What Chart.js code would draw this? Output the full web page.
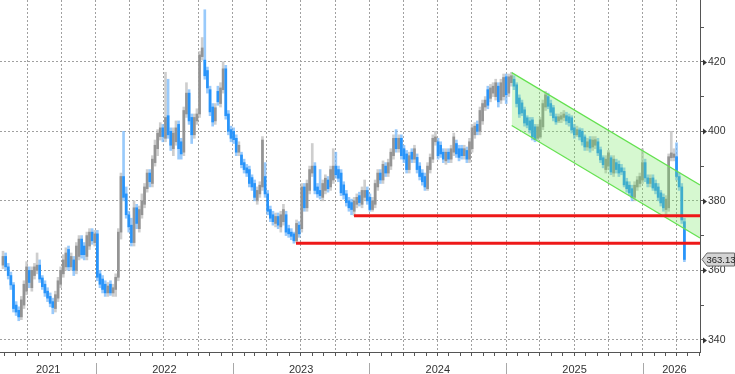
<!DOCTYPE html>
<html>
<head>
<meta charset="utf-8">
<script src="https://cdn.jsdelivr.net/npm/chart.js@4.4.1/dist/chart.umd.min.js"></script>
<style>
  html, body { margin: 0; padding: 0; background: #fff; }
</style>
</head>
<body>
<canvas id="priceChart" width="735" height="374"></canvas>
<script>
// weekly candles, first bar ~ mid April 2021 (x = fractional year)
const firstWeek = 2021.320;
const xMin = 2021.298, xMax = 2026.417;
const yMin = 336.5, yMax = 437.8;

const opens = [
  361.5,364,361,358.5,355.8,350,348.5,346.6,350,354,
  360,355,358.5,360,361.5,357.8,356,354,352.5,351,
  349,352,356,359,361,366,361,363,360,364,
  369,367,364,367,371,368,370.5,359,357.5,356,
  353.5,356,353.5,354.5,358,371,387,382,376,373,
  368,378,372,376,379,383.5,388,385,391,395,
  398.5,401,398,404.5,400,395,397,402,397,394,
  405,411,404,399,403,405,421.5,420.5,417.5,412,
  407,403,411.5,408,412,418,405,400.5,400,398,
  394,393.2,391,389.5,389,386.7,385,380,382,384,
  387,382,377.5,376,373.5,375.5,372.5,374,376,372,
  371,370.5,368.5,373,372,384,378,383,388,390,
  384,383,381,383,386,384,386,390,389,388,
  384.6,382,380,379.5,377,379,381.5,379,381,383,
  381,377.5,379,384,388,386,390,388,390,393,
  398,395,398,395,393.5,389,394,392,392.5,390,
  388,387,383.5,389,392,397,397,396,394,391.5,
  394,392,394,396.5,395,395,393,394.5,392,395,
  399,402,400,403,407,412,409.5,411,410,413,
  409,410,415.7,411,414,415,413.4,409.6,408.2,406.2,
  403.9,403,403.3,401.3,398,398.4,401.3,407,410,408,
  406.8,404.2,403,403.5,404,404.5,404.2,403.9,401,399,
  400.4,400,398.4,395.5,397.6,395.5,396,397,394.7,392.4,
  389,390,392.4,388,391,390.5,389.5,388.5,385.5,384.5,
  383.5,381,384,385,386,391,386.6,385,386.6,385,
  384,382.3,381,377.5,378,392.4,392.5,392.7,387,384,
  374
];
const closes = [
  364,361,358.5,355.8,349,348,346.6,351.5,356,361,
  356.5,360,361,361.5,357.5,355.3,353.5,352,350.5,349.3,
  353,357,360,363,365,361,364,360,367,369,
  364.5,364.5,370,371,368.5,370.5,358,356,354.5,353.5,
  355.5,353.5,355,358,371,387,381,376,372.5,368,
  378,373.5,377.5,380,384,388,385.5,392,396,399.5,
  401,398.5,404,399,396,399.5,401,395,393.5,406,
  411,403,399,404,405,422,424,416,412.5,405.6,
  402.7,406.8,408.5,412.5,418,404.5,400,398,397.6,394,
  396,390.4,389,388,385,384,381,383,384.5,397.5,
  382,377,375,374,375.5,373,376,377.5,371,370.5,
  369.8,368.5,373.5,370.5,384,378,385,389,390,383,
  382,381.5,385,386.5,383.5,389,390,387.5,386.5,382.3,
  381.7,379.5,378,377.5,380,381,379.5,383,383,380,
  377.5,380,385,388,386,390.5,388,391,394,398,
  395,398,393,392,389,393,392,395,389,387,
  385.5,384,390,392.5,398,398.4,393,393.5,392,394,
  392,395,398.4,393.5,392.5,393,395,392,397,401,
  401.5,400,406,408,409,407.5,412.5,413,414,408.5,
  414,415.5,410.5,415.7,416,413,408,405,405.3,402.4,
  401.8,400.4,398.4,397.6,401.3,403.3,408,410.5,407.2,405.5,
  403.9,402.7,404.2,404.5,405,403,402.5,400.4,399,400.5,
  398.4,397,395.5,397,395.2,397.5,397.6,393.8,391.8,390.4,
  392,393.8,388.3,392,389,388,388.3,384.6,383.5,382.3,
  381,384.5,386,387,391,386.6,385,386.5,383.7,383,
  381,379.4,378,380.5,392.7,393.8,393.5,387,384,374.5,
  363.13
];
const highs = [
  365.5,365,362,359.5,356.5,351,349.5,352.5,357,362.5,
  361,361,362,365,363,358.5,357,355,353.5,352,
  354,358,361,364.5,366.5,367,365,364,368,370,
  370,368,371,372,372,371.5,371.5,360,358.5,357,
  356.5,357,356,359,372,388,400,384,377,375,
  380,379,378.5,382,385,389,389,393,397.5,400.5,
  402.5,402,417,415,401,401,403,403,398,407,
  414,412,405,405,406.5,423,427,435,418.5,413,
  408,408,413,414,420,419,406,401.5,401,399,
  397,394,392,390.5,390,387.5,386,384,385.5,398.5,
  391,383,378.5,377,376.5,376.5,377,379,377,373,
  372,371,374.5,374,385,385,386,390,396.5,391,
  385,389,386,387.5,387,390,395,394,390,389,
  385.5,383,381,380.5,381,382,382.5,384,386,384,
  382,381,386,389,389,391.5,391,392,395,399,
  400.5,399,399,396,394.5,394,395,396,393.5,391,
  389,388,391,393.5,399,400,398,397,395,395,
  395,396,399.5,397.5,396,396,396,395.5,398,402,
  402.5,403,407,409,410,413,413.5,414,415,414,
  415,416.5,416.5,416.5,417,416,414,410.5,409,407,
  404.5,404,404,402,402,404,409,411.5,411,409,
  407.5,405,405,405.5,406,405.5,405,404.5,402,401.5,
  401,400.8,399,398,398.5,398.5,398.5,398,395.5,393,
  393,394.5,393,393,392,391.5,390.5,389.5,386.5,385.5,
  384.5,385.5,387,388,395,392,387.5,387.5,387.5,386,
  385,383,382,381.5,393.5,400,395,396.7,388,385,
  375
];
const lows = [
  360.5,360,357.5,354.5,348,347,345.5,345.8,349,353,
  355,354,357.5,359,356.5,354.5,352.5,351,349.5,347.5,
  348,351,355,358,360,360,360,358.5,359,363,
  363.5,363,363,366,367.5,367,357,355,353.5,352.5,
  352.5,352.8,352.5,352.5,357,369,380,375,371,367,
  367,372,371,375,378,382.5,384,384,390,393,
  397.5,397,397,398,394.5,393,396,392,392,393,
  404,402,396.5,398,402,404,420.5,415,411,404.5,
  401.5,402,407.5,407,411,403.5,399,397,396.5,393,
  393,389.5,388,387,384,383,380,379,381,383,
  381,376,374,373,372.5,372,371,373,370,369.5,
  368.8,367.8,368,369.5,371,377,377,382,387,382,
  381,380.5,380,382,382.5,383,385,386.5,385.5,381.5,
  380.5,378.5,377,376,375.7,378,378.5,378,380,379,
  377,377,378,383,385,385,387,387,389,392,
  394,394,392,391,388,388,391,391,388,386,
  384.5,383,383,388,391,396,392,392.5,391,390.5,
  391,391,393,392.5,391.5,392,392,391,391,394,
  398,399,399,402,406,406.5,408.5,410,409,407,
  408,409,408,410,413,412,407,404,404.5,401.5,
  401,399.5,397.5,397,397.5,398,400.5,406,406.5,404.5,
  403,402,402.5,402.5,403,402,401.5,399.5,398,398.5,
  397.5,396,394.5,394.5,394,394.5,395,393,391,389.5,
  388,389,387.5,387,388,387,387.5,384,382.5,381.5,
  380,380,383,384,385,385.5,384,384,383,382,
  380,378.5,377,376,377,391.5,391.5,386,383,373.5,
  362.5
];

const yearNames = ["2021", "2022", "2023", "2024", "2025", "2026"];
const yearLabelAt = [2021.65, 2022.5, 2023.5, 2024.5, 2025.5, 2026.23];
const yearStarts = [2022, 2023, 2024, 2025, 2026];
const priceTicks = [340, 350, 360, 370, 380, 390, 400, 410, 420, 430];
const labelledPrices = [340, 360, 380, 400, 420];

const supportLevels = [375.7, 367.8];
const supportFrom = [2023.887, 2023.4625];
const channelX = [2025.04, xMax];
const channelTop = [416.9, 384.6];
const channelBottom = [401.7, 369.3];
const lastPrice = 363.13;

const weekX = closes.map((c, i) => firstWeek + i * 7 / 365.25);
const up = closes.map((c, i) => c >= opens[i]);

// month starts as fractional years; quarter starts carry the dotted grid
const monthDays = [0, 31, 59, 90, 120, 151, 181, 212, 243, 273, 304, 334];
const key = v => Math.round(v * 10000);
const monthTicks = [];
const quarterTicks = [];
for (let yr = 2021; yr <= 2026; yr++) {
    monthDays.forEach((d, m) => {
        const v = yr + d / 365;
        if (v > xMin && v < xMax) {
            monthTicks.push(v);
            if (m % 3 === 0) quarterTicks.push(v);
        }
    });
}
const yearText = {};
yearLabelAt.forEach((v, i) => { yearText[key(v)] = yearNames[i]; });
const bottomTicks = monthTicks.concat(yearLabelAt).sort((a, b) => a - b);
const isYearTick = c => !!(c.tick && yearText[key(c.tick.value)]);

const blue = 'rgb(40,148,250)';
const blueLight = 'rgba(110,180,250,0.7)';
const gray = 'rgb(148,148,148)';
const grayLight = 'rgba(190,190,190,0.75)';

const extras = {
    id: 'extras',
    afterDraw(chart) {
        const ctx = chart.ctx, a = chart.chartArea;
        const x = chart.scales.x, y = chart.scales.y;
        ctx.save();
        ctx.strokeStyle = '#a8a8a8';
        ctx.lineWidth = 1;
        yearStarts.forEach(v => {
            const px = Math.round(x.getPixelForValue(v)) + 0.5;
            ctx.beginPath();
            ctx.moveTo(px, a.bottom + 11);
            ctx.lineTo(px, chart.height);
            ctx.stroke();
        });
        ctx.fillStyle = '#333';
        labelledPrices.forEach(v => {
            const py = Math.round(y.getPixelForValue(v)) + 0.5;
            ctx.beginPath();
            ctx.moveTo(a.right + 3, py - 3);
            ctx.lineTo(a.right + 7, py);
            ctx.lineTo(a.right + 3, py + 3);
            ctx.closePath();
            ctx.fill();
        });
        const py = Math.round(y.getPixelForValue(lastPrice)) + 0.5;
        ctx.beginPath();
        ctx.moveTo(a.right + 2, py);
        ctx.lineTo(a.right + 7, py - 6.5);
        ctx.lineTo(chart.width - 0.5, py - 6.5);
        ctx.lineTo(chart.width - 0.5, py + 6.5);
        ctx.lineTo(a.right + 7, py + 6.5);
        ctx.closePath();
        ctx.fillStyle = '#d4d4d4';
        ctx.fill();
        ctx.strokeStyle = '#6a6a6a';
        ctx.stroke();
        ctx.fillStyle = '#222';
        ctx.font = "9.5px 'Liberation Sans', Arial, sans-serif";
        ctx.textBaseline = 'middle';
        ctx.fillText(lastPrice.toFixed(2), a.right + 6.5, py + 0.5);
        ctx.restore();
    }
};

Chart.defaults.font.family = "'Liberation Sans', Arial, sans-serif";
Chart.defaults.font.size = 11;
Chart.defaults.color = '#333';

new Chart(document.getElementById("priceChart"), {
    type: 'bar',
    data: {
        datasets: [{
            type: 'line',
            label: 'support 1',
            data: [{ x: supportFrom[0], y: supportLevels[0] }, { x: xMax, y: supportLevels[0] }],
            borderColor: 'rgb(238,24,24)',
            borderWidth: 3,
            pointRadius: 0,
            order: 0
        }, {
            type: 'line',
            label: 'support 2',
            data: [{ x: supportFrom[1], y: supportLevels[1] }, { x: xMax, y: supportLevels[1] }],
            borderColor: 'rgb(238,24,24)',
            borderWidth: 3,
            pointRadius: 0,
            order: 0
        }, {
            type: 'line',
            label: 'channel top',
            data: channelX.map((v, i) => ({ x: v, y: channelTop[i] })),
            borderColor: 'rgb(100,225,80)',
            borderWidth: 1.2,
            pointRadius: 0,
            fill: '+1',
            backgroundColor: 'rgba(120,232,100,0.3)',
            order: 1
        }, {
            type: 'line',
            label: 'channel bottom',
            data: channelX.map((v, i) => ({ x: v, y: channelBottom[i] })),
            borderColor: 'rgb(100,225,80)',
            borderWidth: 1.2,
            pointRadius: 0,
            fill: false,
            order: 1
        }, {
            label: 'bodies',
            data: weekX.map((v, i) => ({ x: v, y: [opens[i], closes[i]] })),
            backgroundColor: up.map(u => u ? gray : blue),
            barThickness: 2,
            minBarLength: 1,
            grouped: false,
            order: 2
        }, {
            label: 'wicks',
            data: weekX.map((v, i) => ({ x: v, y: [lows[i], highs[i]] })),
            backgroundColor: up.map(u => u ? grayLight : blueLight),
            barThickness: 2,
            grouped: false,
            order: 3
        }]
    },
    options: {
        responsive: false,
        animation: false,
        events: [],
        layout: { padding: 0 },
        plugins: {
            legend: { display: false },
            tooltip: { enabled: false },
            title: { display: false }
        },
        scales: {
            x: {
                type: 'linear',
                min: xMin,
                max: xMax,
                offset: false,
                weight: 1,
                afterBuildTicks: s => { s.ticks = bottomTicks.map(v => ({ value: v })); },
                afterFit: s => { s.height = 22; s.paddingLeft = 0; s.paddingRight = 0; },
                ticks: {
                    autoSkip: false,
                    maxRotation: 0,
                    padding: 7,
                    color: '#333',
                    callback: v => yearText[key(v)] || ''
                },
                grid: {
                    offset: false,
                    drawOnChartArea: false,
                    tickColor: c => isYearTick(c) ? 'rgba(0,0,0,0)' : '#555',
                    tickLength: 4
                },
                border: { color: '#555' }
            },
            quarters: {
                type: 'linear',
                position: 'bottom',
                min: xMin,
                max: xMax,
                offset: false,
                weight: 0,
                afterBuildTicks: s => { s.ticks = quarterTicks.map(v => ({ value: v })); },
                afterFit: s => { s.height = 0; s.paddingLeft = 0; s.paddingRight = 0; },
                ticks: { display: false },
                grid: { offset: false, color: '#a0a0a0', drawTicks: false },
                border: { display: false, dash: [2, 2] }
            },
            y: {
                position: 'right',
                min: yMin,
                max: yMax,
                afterBuildTicks: s => { s.ticks = priceTicks.map(v => ({ value: v })); },
                afterFit: s => { s.width = 35; s.paddingTop = 0; s.paddingBottom = 0; },
                ticks: {
                    padding: 4,
                    color: '#333',
                    font: { size: 10.5 },
                    callback: v => labelledPrices.includes(v) ? String(v) : ''
                },
                grid: {
                    color: c => c.tick && labelledPrices.includes(c.tick.value) ? '#a0a0a0' : 'rgba(0,0,0,0)',
                    tickColor: '#555',
                    tickLength: 4
                },
                border: { color: '#555', dash: [2, 2] }
            }
        }
    },
    plugins: [extras]
});
</script>
</body>
</html>
